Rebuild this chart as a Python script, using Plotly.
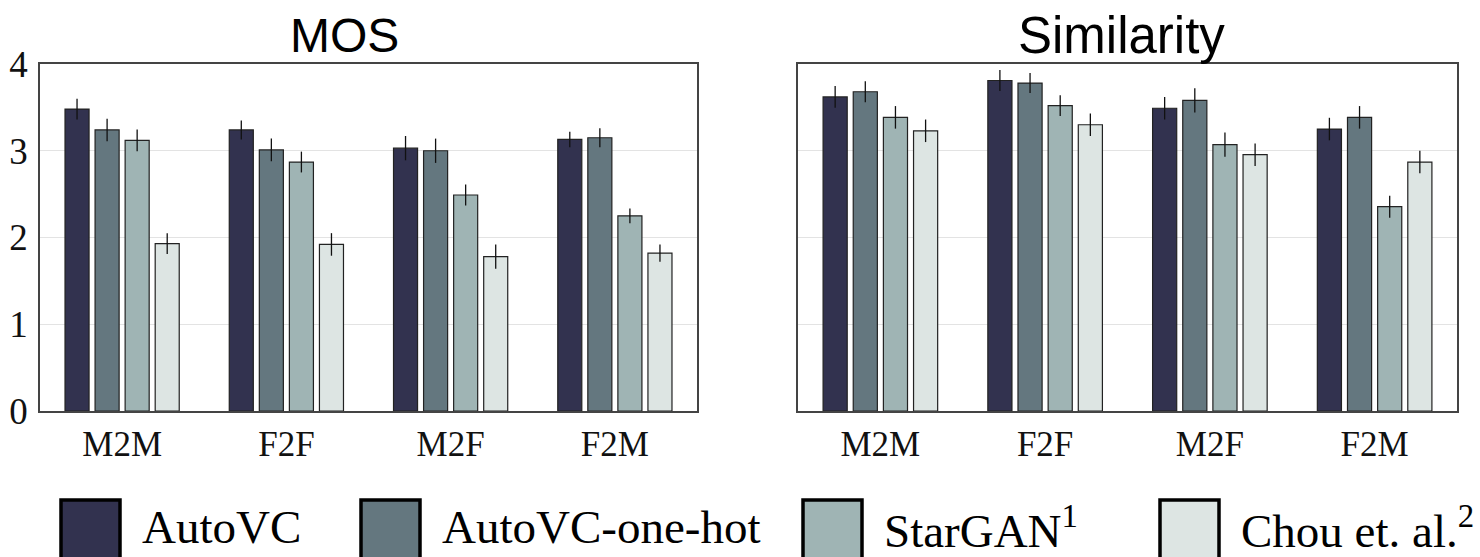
import plotly.graph_objects as go

categories = ["M2M", "F2F", "M2F", "F2M"]
methods = ["AutoVC", "AutoVC-one-hot", "StarGAN", "Chou et. al."]
legend_labels = ["AutoVC", "AutoVC-one-hot", "StarGAN<sup>1</sup>", "Chou et. al.<sup>2</sup>"]
colors = ["#32324f", "#64777f", "#9fb4b4", "#dde5e3"]

mos_autovc = [3.48, 3.24, 3.03, 3.13]
mos_onehot = [3.24, 3.01, 3.00, 3.15]
mos_stargan = [3.12, 2.87, 2.49, 2.25]
mos_chou = [1.93, 1.92, 1.78, 1.82]
mos_err_autovc = [0.12, 0.11, 0.14, 0.09]
mos_err_onehot = [0.13, 0.13, 0.14, 0.11]
mos_err_stargan = [0.125, 0.12, 0.12, 0.085]
mos_err_chou = [0.12, 0.13, 0.14, 0.10]

sim_autovc = [3.62, 3.81, 3.49, 3.25]
sim_onehot = [3.68, 3.78, 3.58, 3.385]
sim_stargan = [3.385, 3.52, 3.07, 2.355]
sim_chou = [3.23, 3.30, 2.955, 2.87]
sim_err_autovc = [0.125, 0.12, 0.13, 0.13]
sim_err_onehot = [0.12, 0.115, 0.14, 0.13]
sim_err_stargan = [0.13, 0.12, 0.14, 0.127]
sim_err_chou = [0.13, 0.13, 0.13, 0.13]

y_ticks = [0, 1, 2, 3, 4]

mos = [mos_autovc, mos_onehot, mos_stargan, mos_chou]
mos_err = [mos_err_autovc, mos_err_onehot, mos_err_stargan, mos_err_chou]
sim = [sim_autovc, sim_onehot, sim_stargan, sim_chou]
sim_err = [sim_err_autovc, sim_err_onehot, sim_err_stargan, sim_err_chou]

W, H = 1480, 557

fig = go.Figure()
for i, m in enumerate(methods):
    for vals, errs, xa, ya in [(mos, mos_err, "x", "y"), (sim, sim_err, "x2", "y2")]:
        fig.add_trace(go.Bar(
            x=categories, y=vals[i], name=m, xaxis=xa, yaxis=ya,
            marker=dict(color=colors[i], line=dict(color="#222222", width=1.2)),
            error_y=dict(type="data", array=errs[i], color="#111111", thickness=1.3, width=0),
            showlegend=False,
        ))

def px_x(p):
    return p / W

def px_y(p):
    return 1 - p / H

ydom = [px_y(411), px_y(64)]
xfont = dict(family="Liberation Serif", size=35, color="#111111")
fig.update_layout(
    width=W, height=H,
    margin=dict(l=0, r=0, t=0, b=0, pad=0, autoexpand=False),
    paper_bgcolor="white", plot_bgcolor="white",
    barmode="group", bargap=0.268, bargroupgap=0.2,
    showlegend=False,
    xaxis=dict(domain=[px_x(40), px_x(697)], anchor="y", automargin=False,
               showline=True, linecolor="#444444", linewidth=1.5, mirror=True,
               ticks="", showgrid=False, zeroline=False,
               tickfont=xfont, ticklabelstandoff=1),
    xaxis2=dict(domain=[px_x(798), px_x(1457)], anchor="y2", automargin=False,
                showline=True, linecolor="#444444", linewidth=1.5, mirror=True,
                ticks="", showgrid=False, zeroline=False,
                tickfont=xfont, ticklabelstandoff=1),
    yaxis=dict(domain=ydom, anchor="x", range=[0, 4], tickvals=y_ticks, automargin=False,
               showline=True, linecolor="#444444", linewidth=1.5, mirror=True, ticks="",
               showgrid=True, gridcolor="#e3e3e3", gridwidth=1, zeroline=False,
               tickfont=dict(family="Liberation Serif", size=37, color="#111111"),
               ticklabelstandoff=3),
    yaxis2=dict(domain=ydom, anchor="x2", range=[0, 4], tickvals=y_ticks, automargin=False,
                showticklabels=False, ticks="",
                showline=True, linecolor="#444444", linewidth=1.5, mirror=True,
                showgrid=True, gridcolor="#e3e3e3", gridwidth=1, zeroline=False),
)

# subplot titles
fig.add_annotation(text="MOS", x=px_x(344), y=px_y(35), xref="paper", yref="paper",
                   showarrow=False, xanchor="center", yanchor="middle",
                   font=dict(family="Liberation Sans", size=48, color="#000000"))
fig.add_annotation(text="Similarity", x=px_x(1121), y=px_y(35), xref="paper", yref="paper",
                   showarrow=False, xanchor="center", yanchor="middle",
                   font=dict(family="Liberation Sans", size=51, color="#000000"))

# manual legend
legend_square_x = [61, 361, 803, 1160]
for i, lab in enumerate(legend_labels):
    x0 = legend_square_x[i]
    fig.add_shape(type="rect", xref="paper", yref="paper",
                  x0=px_x(x0), x1=px_x(x0 + 59), y0=px_y(559), y1=px_y(500),
                  fillcolor=colors[i], line=dict(color="#000000", width=3.5))
    fig.add_annotation(text=lab, x=px_x(x0 + 79), y=px_y(527), xref="paper", yref="paper",
                       showarrow=False, xanchor="left", yanchor="middle",
                       font=dict(family="Liberation Serif", size=47, color="#000000"))

fig.write_html("out.html")
